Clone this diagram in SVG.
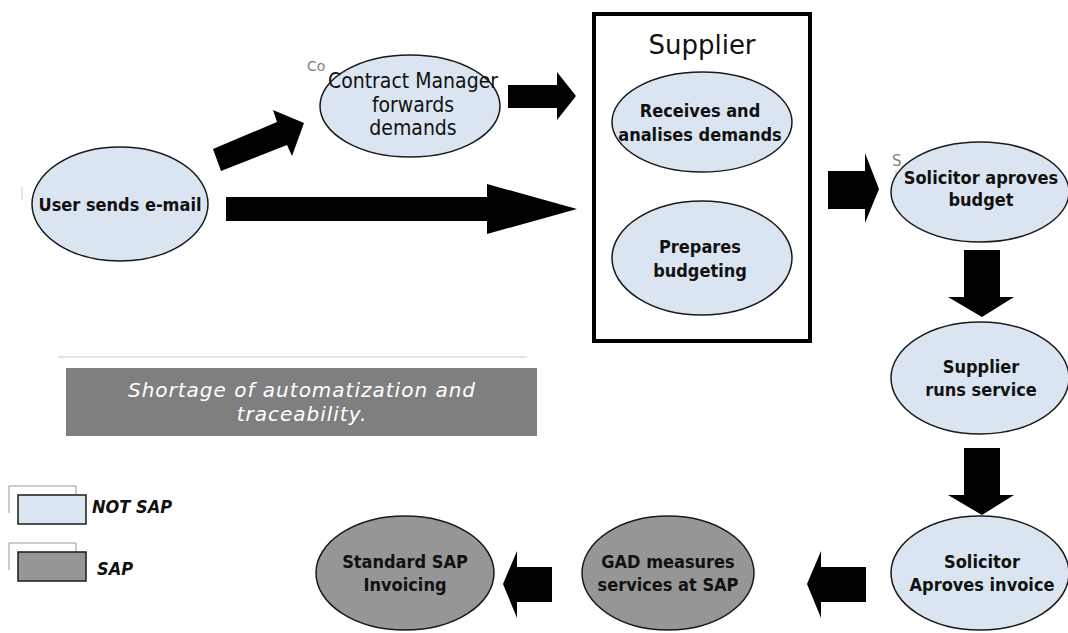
<svg xmlns="http://www.w3.org/2000/svg" width="1068" height="633" viewBox="0 0 1068 633">
<style>
.n{fill:#dbe5f1;stroke:#1a1a1a;stroke-width:1.5}
.s{fill:#969696;stroke:#1a1a1a;stroke-width:1.5}
.t{font-family:'DejaVu Sans Condensed','DejaVu Sans',sans-serif;font-stretch:condensed;font-weight:bold;font-size:18px;fill:#111;text-anchor:middle}
.ar{fill:#000}
.fl{fill:none;stroke:#c8c8c8;stroke-width:1}
</style>
<rect width="1068" height="633" fill="#fff"/>
<g id="faint">
<path class="fl" d="M58,357H527"/>
<path class="fl" d="M22,187V200M896,170V185"/>
</g>
<g id="connectors">
<polygon class="ar" points="213,149 277,122 273,110 304,123 292,156 287,145 221,171"/>
<polygon class="ar" points="226,197 487,197 487,184 577,209 487,234 487,221 226,221"/>
<polygon class="ar" points="508,85 557,85 557,72 576,96 557,120 557,108 508,108"/>
<polygon class="ar" points="828,171 865,171 865,153 879,189 865,223 865,209 828,209"/>
<polygon class="ar" points="964,250 1000,250 1000,297 1014,297 982,317 948,297 964,297"/>
<polygon class="ar" points="964,448 1000,448 1000,495 1014,495 982,515 948,495 964,495"/>
<polygon class="ar" points="866,567 821,567 821,551 807,584 821,618 821,602 866,602"/>
<polygon class="ar" points="552,567 517,567 517,551 503,584 517,618 517,602 552,602"/>
</g>
<g id="supplier">
<rect x="594" y="14" width="216" height="327" fill="none" stroke="#000" stroke-width="4"/>
<text x="702" y="54" style="font-family:'DejaVu Sans',sans-serif;font-size:26px;fill:#111;text-anchor:middle">Supplier</text>
</g>
<g id="user">
<ellipse class="n" cx="120" cy="204" rx="88" ry="57"/>
<text class="t" x="120" y="211">User sends e-mail</text>
</g>
<g id="contract">
<text x="307" y="71" style="font-family:'DejaVu Sans',sans-serif;font-size:14px;fill:#7f7f7f">Co</text>
<ellipse class="n" cx="410" cy="106" rx="90" ry="51"/>
<text class="t" style="font-weight:normal;font-size:21px" x="413" y="88">Contract Manager</text>
<text class="t" style="font-weight:normal;font-size:21px" x="413" y="112">forwards</text>
<text class="t" style="font-weight:normal;font-size:21px" x="413" y="135">demands</text>
</g>
<g id="receives">
<ellipse class="n" cx="702" cy="122" rx="90" ry="50"/>
<text class="t" x="700" y="117">Receives and</text>
<text class="t" x="700" y="141">analises demands</text>
</g>
<g id="prepares">
<ellipse class="n" cx="702" cy="258" rx="90" ry="57"/>
<text class="t" x="700" y="253">Prepares</text>
<text class="t" x="700" y="277">budgeting</text>
</g>
<g id="solicitor-budget">
<text x="892" y="166" style="font-family:'DejaVu Sans',sans-serif;font-size:15px;fill:#7f7f7f">S</text>
<ellipse class="n" cx="980" cy="192" rx="89" ry="50"/>
<text class="t" x="981" y="184">Solicitor aproves</text>
<text class="t" x="981" y="206">budget</text>
</g>
<g id="supplier-runs">
<ellipse class="n" cx="980" cy="378" rx="89" ry="56"/>
<text class="t" x="981" y="373">Supplier</text>
<text class="t" x="981" y="396">runs service</text>
</g>
<g id="solicitor-invoice">
<ellipse class="n" cx="980" cy="573" rx="89" ry="57"/>
<text class="t" x="982" y="568">Solicitor</text>
<text class="t" x="982" y="591">Aproves invoice</text>
</g>
<g id="gad">
<ellipse class="s" cx="668" cy="573" rx="86" ry="57"/>
<text class="t" x="668" y="568">GAD measures</text>
<text class="t" x="668" y="591">services at SAP</text>
</g>
<g id="standard">
<ellipse class="s" cx="405" cy="573" rx="89" ry="57"/>
<text class="t" x="405" y="568">Standard SAP</text>
<text class="t" x="405" y="591">Invoicing</text>
</g>
<g id="note">
<rect x="66" y="368" width="471" height="68" fill="#7f7f7f"/>
<text x="302" y="397" style="font-family:'DejaVu Sans',sans-serif;font-style:italic;font-size:20px;letter-spacing:1px;fill:#fff;text-anchor:middle">Shortage of automatization and</text>
<text x="302" y="421" style="font-family:'DejaVu Sans',sans-serif;font-style:italic;font-size:20px;letter-spacing:1px;fill:#fff;text-anchor:middle">traceability.</text>
</g>
<g id="legend">
<path class="fl" d="M9,513V486H76V495M9,570V543H76V552" style="stroke:#999"/>
<rect x="18" y="495" width="68" height="29" class="n"/>
<rect x="18" y="552" width="68" height="29" class="s"/>
<text class="t" style="font-style:italic;text-anchor:start" x="92" y="513">NOT SAP</text>
<text class="t" style="font-style:italic;text-anchor:start" x="97" y="575">SAP</text>
</g>
</svg>
